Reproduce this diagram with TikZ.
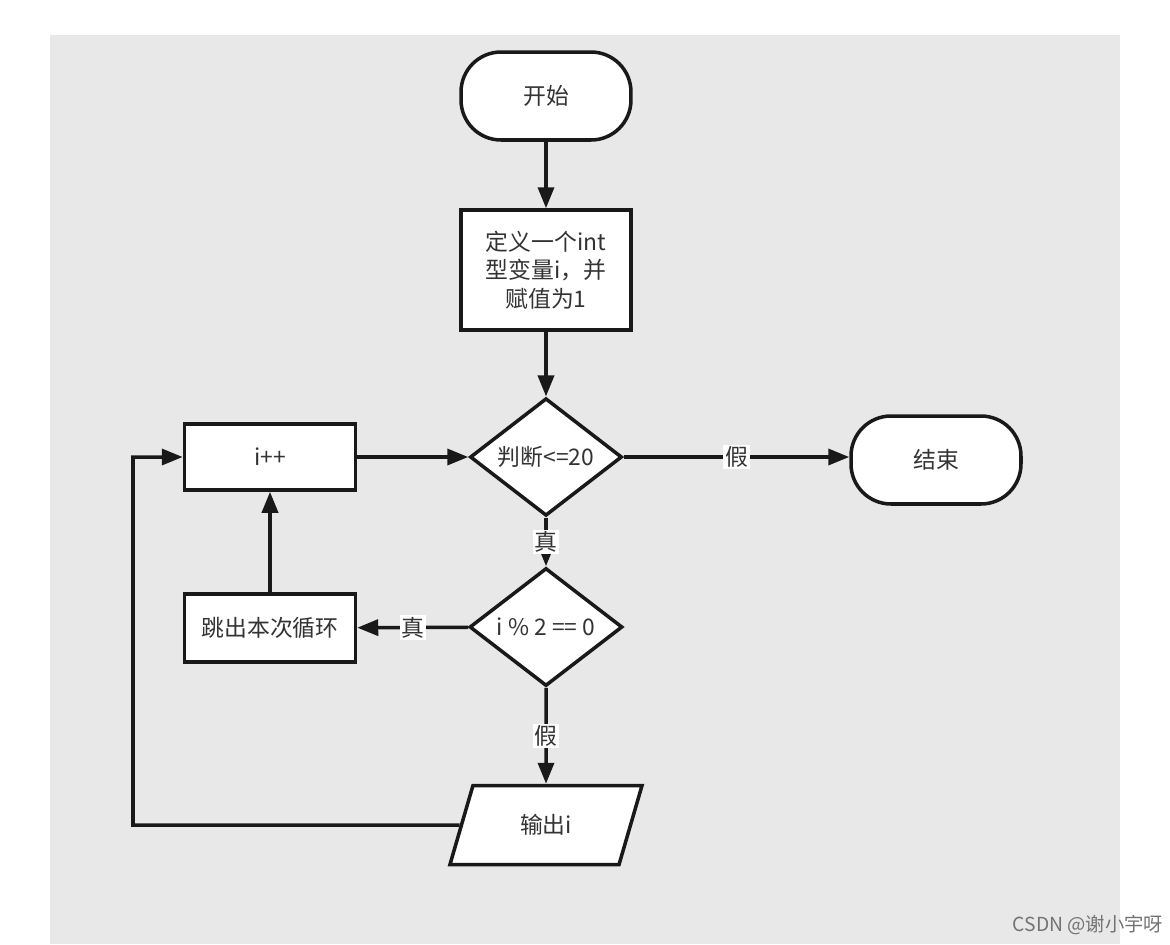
\documentclass[tikz,border=0pt]{standalone}
\usepackage{fontspec}
\setmainfont{Noto Sans CJK SC}
\usetikzlibrary{arrows.meta,shapes.geometric}

\begin{document}
\begin{tikzpicture}[x=0.02cm, y=-0.02cm, line width=2pt,
   box/.style={draw=black!90, fill=white, minimum width=3.4cm, text=black!80, font=\fontsize{13}{16.2}\selectfont},
   term/.style={box, rounded corners=0.8cm, minimum height=1.76cm},
   test/.style={box, diamond, minimum width=3.04cm, minimum height=2.34cm, inner sep=0pt},
   io/.style={box, trapezium, trapezium left angle=73, trapezium right angle=107, trapezium stretches=true, minimum width=3.86cm, minimum height=1.58cm},
   arr/.style={draw=black!90, -{Triangle[length=4.2mm,width=3.2mm]}},
   lbl/.style={fill=white, inner sep=1pt, text=black!80, font=\fontsize{13}{15}\selectfont},]
   \useasboundingbox (0,0) rectangle (1170,944);
   \fill[white] (0,0) rectangle (1170,944);
   \fill[black!9] (50,35) rectangle (1120,944);

   \node[term] (start) at (546,96) {开始};
   \node[box, minimum height=2.4cm, align=center] (init) at (546,270) {定义一个int\\型变量i，并\\赋值为1};
   \node[test] (judge) at (546,457) {判断<=20};
   \node[term] (stop) at (936,460) {结束};
   \node[box, minimum width=3.42cm, minimum height=1.32cm] (inc) at (270,457) {i++};
   \node[test, minimum width=3.06cm, minimum height=2.36cm] (even) at (546,627) {i \% 2 == 0};
   \node[box, minimum width=3.42cm, minimum height=1.36cm] (skip) at (270,628) {跳出本次循环};
   \node[io] (out) at (546,825) {输出i};
   \coordinate (back) at (133,825);

   \draw[arr] (start) -- (init);
   \draw[arr] (init) -- (judge);
   \draw[arr] (judge.east) -- node[lbl] {假} (judge.east -| stop.west);
   \draw[arr] (judge) -- node[lbl] {真} (even);
   \draw[arr] (even) -- node[lbl] {真} (skip);
   \draw[arr] (even) -- node[lbl] {假} (out);
   \draw[arr] (skip) -- (inc);
   \draw[arr] (inc) -- (judge);
   \draw[arr] (out.west) -- (back) |- (inc.west);

   \node[text=black!55, font=\fontsize{11}{13}\selectfont] (mark) at (1088,925) {CSDN @谢小宇呀};
\end{tikzpicture}
\end{document}
